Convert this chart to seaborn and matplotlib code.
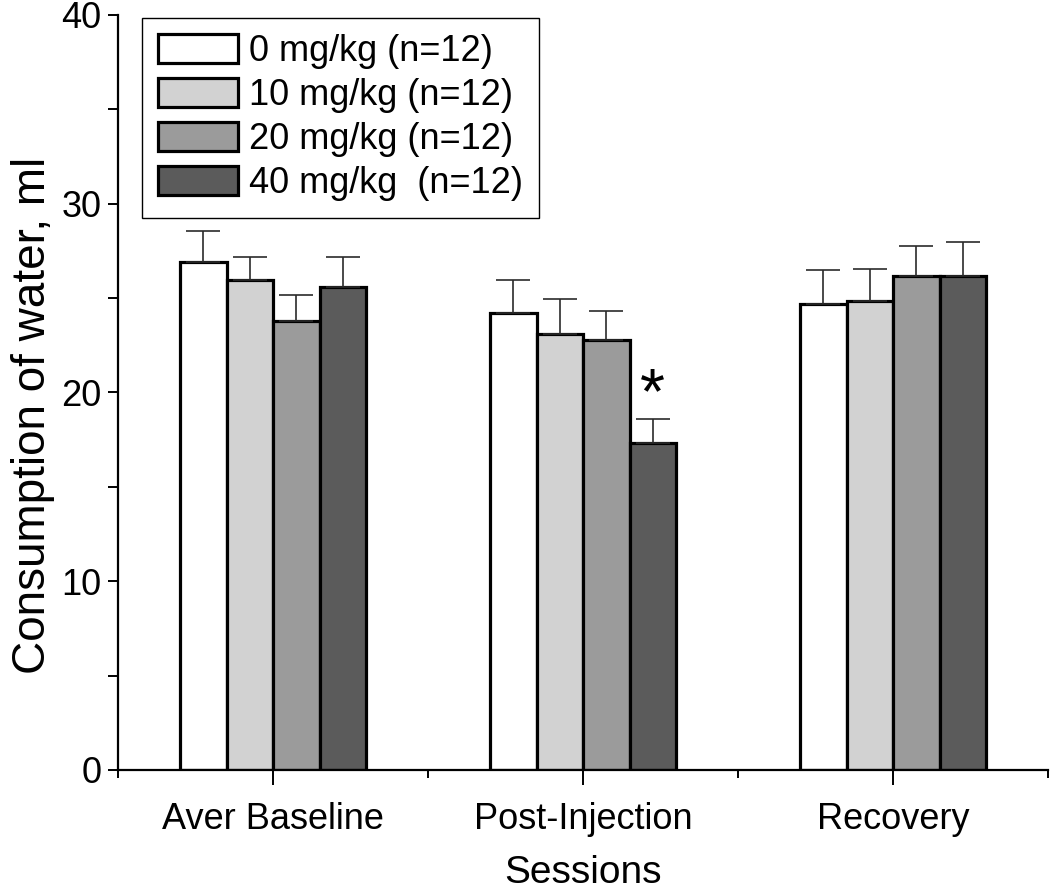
import numpy as np
import pandas as pd
import matplotlib
matplotlib.use('Agg')
import matplotlib.pyplot as plt
import seaborn as sns
from matplotlib.ticker import MultipleLocator, FixedLocator

# data
sessions = ['Aver Baseline', 'Post-Injection', 'Recovery']
doses = ['0 mg/kg (n=12)', '10 mg/kg (n=12)', '20 mg/kg (n=12)', '40 mg/kg  (n=12)']
means = {
    '0 mg/kg (n=12)': [26.9, 24.2, 24.7],
    '10 mg/kg (n=12)': [25.95, 23.1, 24.85],
    '20 mg/kg (n=12)': [23.8, 22.8, 26.15],
    '40 mg/kg  (n=12)': [25.6, 17.3, 26.15],
}
sems = {
    '0 mg/kg (n=12)': [1.65, 1.75, 1.8],
    '10 mg/kg (n=12)': [1.2, 1.85, 1.7],
    '20 mg/kg (n=12)': [1.35, 1.5, 1.6],
    '40 mg/kg  (n=12)': [1.55, 1.3, 1.8],
}
colors = ['#ffffff', '#d2d2d2', '#9b9b9b', '#5b5b5b']

df = pd.DataFrame([
    {'Session': s, 'Dose': d, 'Water': means[d][i], 'SEM': sems[d][i]}
    for d in doses for i, s in enumerate(sessions)
])

sns.set_style('ticks')
plt.rcParams['font.family'] = ['Liberation Sans', 'DejaVu Sans']
plt.rcParams['text.color'] = 'black'
plt.rcParams['axes.labelcolor'] = 'black'
plt.rcParams['xtick.color'] = 'black'
plt.rcParams['ytick.color'] = 'black'

fig = plt.figure(figsize=(10.5, 8.89), dpi=100)
ax = fig.add_axes([0.1124, 0.1339, 0.8857, 0.8493])

sns.barplot(data=df, x='Session', y='Water', hue='Dose', order=sessions,
            hue_order=doses, palette=colors, width=0.6, gap=0,
            edgecolor='black', linewidth=2.3, errorbar=None, ax=ax,
            legend=True)

# upper-only error bars, placed on each bar's centre
for container, d in zip(ax.containers, doses):
    xs = [p.get_x() + p.get_width() / 2 for p in container.patches]
    ys = [p.get_height() for p in container.patches]
    ax.errorbar(xs, ys, yerr=[np.zeros(len(ys)), sems[d]], fmt='none',
                ecolor='#2b2b2b', elinewidth=1.2, capsize=12.5,
                capthick=1.2, zorder=1)

# significance mark over the 40 mg/kg post-injection bar
star_bar = ax.containers[3].patches[1]
ax.text(star_bar.get_x() + star_bar.get_width() / 2, 19.8, '*',
        ha='center', va='center', fontsize=46, color='black')

ax.set_xlim(-0.5, 2.5)
ax.set_ylim(0, 40)
ax.yaxis.set_major_locator(MultipleLocator(10))
ax.yaxis.set_minor_locator(MultipleLocator(5))
ax.xaxis.set_minor_locator(FixedLocator([-0.5, 0.5, 1.5, 2.5]))

sns.despine(ax=ax)
for sp in ['left', 'bottom']:
    ax.spines[sp].set_linewidth(1.6)
    ax.spines[sp].set_color('black')

ax.tick_params(axis='y', which='both', direction='out', length=7, width=1.4,
               labelsize=26, pad=5)
ax.tick_params(axis='x', which='major', direction='out', length=11, width=1.4,
               labelsize=26, pad=12)
ax.tick_params(axis='x', which='minor', direction='out', length=6, width=1.4)

ax.set_xlabel('Sessions', fontsize=28, labelpad=13)
ax.set_ylabel('Consumption of water, ml', fontsize=33)
ax.yaxis.set_label_coords(-0.068, 0.469)

handles, labels = ax.get_legend_handles_labels()
ax.legend(handles, labels, loc='upper left', bbox_to_anchor=(0.026, 0.996),
          borderaxespad=0, fontsize=26, frameon=True, fancybox=False,
          edgecolor='black', framealpha=1, handlelength=2.2,
          handleheight=0.85, handletextpad=0.3, labelspacing=0.25,
          borderpad=0.45, title=None)
ax.get_legend().get_frame().set_linewidth(1.0)

fig.savefig('out.png', dpi=100)
